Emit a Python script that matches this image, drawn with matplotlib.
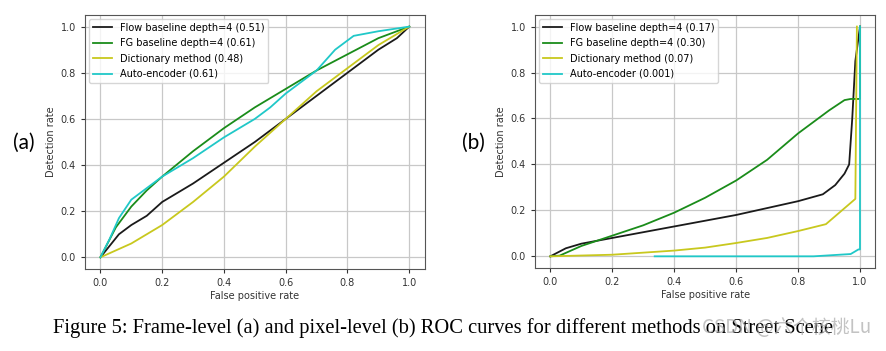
import numpy as np
import matplotlib
matplotlib.use("Agg")
import matplotlib.pyplot as plt

# frame-level ROC (a)
flow_a_x = [0, 0.03, 0.06, 0.1, 0.15, 0.2, 0.3, 0.4, 0.5, 0.6, 0.7, 0.8, 0.9, 0.96, 1.0]
flow_a_y = [0, 0.05, 0.1, 0.14, 0.18, 0.24, 0.32, 0.41, 0.5, 0.6, 0.7, 0.8, 0.9, 0.95, 1.0]
fg_a_x = [0, 0.05, 0.1, 0.15, 0.2, 0.3, 0.4, 0.5, 0.6, 0.7, 0.8, 0.9, 1.0]
fg_a_y = [0, 0.13, 0.22, 0.29, 0.35, 0.46, 0.56, 0.65, 0.73, 0.81, 0.88, 0.95, 1.0]
dict_a_x = [0, 0.1, 0.2, 0.3, 0.4, 0.5, 0.6, 0.7, 0.8, 0.9, 1.0]
dict_a_y = [0, 0.06, 0.14, 0.24, 0.35, 0.48, 0.6, 0.72, 0.82, 0.92, 1.0]
ae_a_x = [0, 0.03, 0.06, 0.1, 0.15, 0.2, 0.3, 0.4, 0.5, 0.55, 0.6, 0.7, 0.76, 0.82, 0.9, 1.0]
ae_a_y = [0, 0.08, 0.17, 0.25, 0.3, 0.35, 0.43, 0.52, 0.6, 0.65, 0.71, 0.81, 0.9, 0.96, 0.98, 1.0]

# pixel-level ROC (b)
flow_b_x = [0, 0.05, 0.1, 0.2, 0.3, 0.4, 0.5, 0.6, 0.7, 0.8, 0.88, 0.92, 0.95, 0.965, 0.975, 0.985, 1.0]
flow_b_y = [0, 0.035, 0.055, 0.08, 0.105, 0.13, 0.155, 0.18, 0.21, 0.24, 0.27, 0.31, 0.36, 0.4, 0.6, 0.85, 1.0]
fg_b_x = [0, 0.03, 0.1, 0.2, 0.3, 0.4, 0.5, 0.6, 0.7, 0.8, 0.9, 0.95, 0.97, 1.0, 1.0]
fg_b_y = [0, 0.003, 0.045, 0.09, 0.135, 0.19, 0.255, 0.33, 0.42, 0.535, 0.635, 0.68, 0.685, 0.685, 1.0]
dict_b_x = [0, 0.2, 0.4, 0.5, 0.6, 0.7, 0.8, 0.89, 0.985, 0.99]
dict_b_y = [0, 0.007, 0.025, 0.038, 0.058, 0.08, 0.11, 0.14, 0.25, 1.0]
ae_b_x = [0.337, 0.85, 0.97, 0.995, 1.0, 1.0]
ae_b_y = [0, 0, 0.01, 0.03, 0.03, 1.0]

labels_a = ["Flow baseline depth=4 (0.51)", "FG baseline depth=4 (0.61)",
            "Dictionary method (0.48)", "Auto-encoder (0.61)"]
labels_b = ["Flow baseline depth=4 (0.17)", "FG baseline depth=4 (0.30)",
            "Dictionary method (0.07)", "Auto-encoder (0.001)"]
colors = ["#1a1a1a", "#1a8c1a", "#c8c81e", "#20c8c8"]

fig = plt.figure(figsize=(8.87, 3.51), dpi=100)
ax1 = fig.add_axes([0.0958, 0.234, 0.383, 0.723])
ax2 = fig.add_axes([0.603, 0.237, 0.384, 0.72])

data = [
    (ax1, [(flow_a_x, flow_a_y), (fg_a_x, fg_a_y), (dict_a_x, dict_a_y), (ae_a_x, ae_a_y)], labels_a),
    (ax2, [(flow_b_x, flow_b_y), (fg_b_x, fg_b_y), (dict_b_x, dict_b_y), (ae_b_x, ae_b_y)], labels_b),
]
for ax, series, labels in data:
    for (xs, ys), lab, c in zip(series, labels, colors):
        ax.plot(xs, ys, color=c, lw=1.3, label=lab)
    ax.set_xlim(-0.05, 1.05)
    ax.set_ylim(-0.05, 1.05)
    ax.set_xticks(np.arange(0, 1.01, 0.2))
    ax.set_yticks(np.arange(0, 1.01, 0.2))
    ax.grid(True, color="#c8c8c8", lw=0.9)
    ax.tick_params(labelsize=7, colors="#333333", length=3)
    ax.set_xlabel("False positive rate", fontsize=7, color="#333333", labelpad=2)
    ax.set_ylabel("Detection rate", fontsize=7, color="#333333", labelpad=3)
    for s in ax.spines.values():
        s.set_color("#555555")
    leg = ax.legend(loc="upper left", fontsize=7, frameon=True, handlelength=2,
                    borderaxespad=0.4, labelspacing=0.55)
    leg.get_frame().set_edgecolor("#cccccc")

fig.text(0.0147, 0.593, "(a)", fontsize=15, family="Lato", va="center", ha="left")
fig.text(0.521, 0.593, "(b)", fontsize=15, family="Lato", va="center", ha="left")

fig.text(0.06, 0.066, "Figure 5: Frame-level (a) and pixel-level (b) ROC curves for different methods on Street Scene",
         fontsize=14.8, family="Liberation Serif", va="center", ha="left")
fig.text(0.791, 0.068, "CSDN @六个核桃Lu", fontsize=13.6, family=["Noto Sans CJK SC", "DejaVu Sans"],
         color="#aaaaaa", alpha=0.7, va="center", ha="left")

plt.savefig("out.png", dpi=100)
plt.close()
